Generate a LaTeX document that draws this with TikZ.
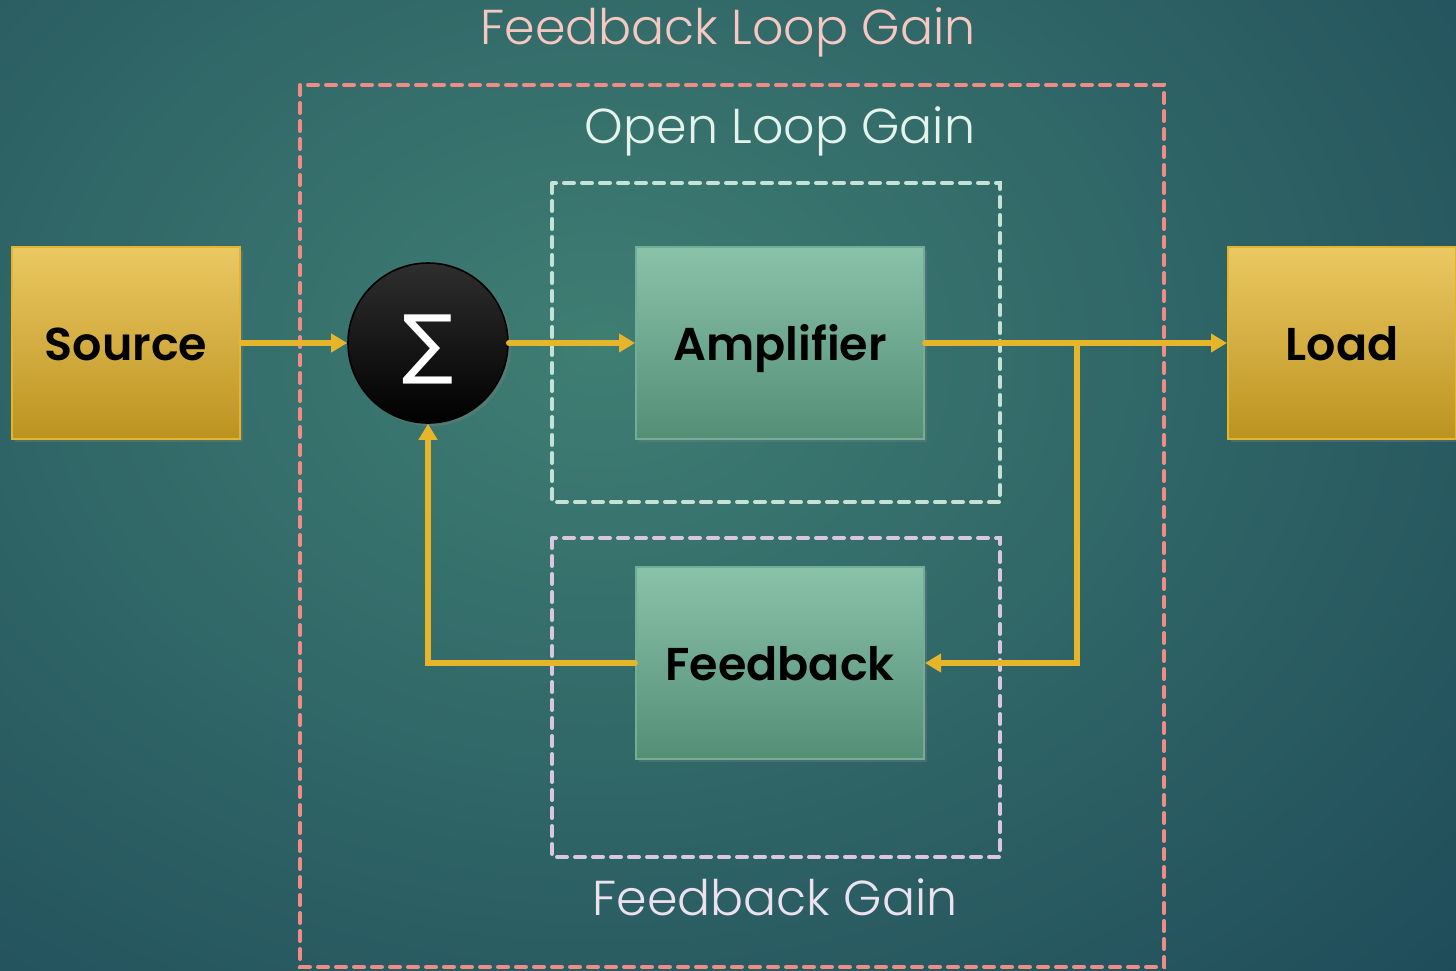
\documentclass[tikz,border=0pt]{standalone}
\usepackage{fontspec}
\setmainfont{Poppins}[BoldFont=* SemiBold]
\newfontfamily\thinfont{Poppins}[UprightFont=* Light]
\newfontfamily\symfont{DejaVu Sans}
\usetikzlibrary{arrows.meta,shadows}

\definecolor{bgin}{HTML}{3F7E73}
\definecolor{bgout}{HTML}{1C4757}
\definecolor{goldtop}{HTML}{ECC862}
\definecolor{goldbot}{HTML}{BB9320}
\definecolor{goldedge}{HTML}{E2B52C}
\definecolor{greentop}{HTML}{8AC2A9}
\definecolor{greenbot}{HTML}{548E77}
\definecolor{greenedge}{HTML}{72AE94}
\definecolor{wire}{HTML}{E6B52A}
\definecolor{loopred}{HTML}{F08C88}
\definecolor{openteal}{HTML}{C4E2D6}
\definecolor{fblilac}{HTML}{D9C6DF}
\definecolor{txtpink}{HTML}{F7C8C2}
\definecolor{txtmint}{HTML}{E4F3EC}
\definecolor{txtlilac}{HTML}{ECE2EF}

\tikzset{
  box/.style={draw, line width=1pt, rectangle, inner sep=0pt,
    drop shadow={opacity=0.35, shadow xshift=1.5pt, shadow yshift=-1.5pt},
    font=\fontsize{23}{26}\selectfont\bfseries, text=black,
    text height=17pt, text depth=0pt},
  goldbox/.style={box, draw=goldedge, top color=goldtop, bottom color=goldbot,
    minimum width=114pt, minimum height=96pt},
  greenbox/.style={box, draw=greenedge, top color=greentop, bottom color=greenbot,
    minimum width=144pt, minimum height=96pt},
  sumnode/.style={circle, draw=black, line width=0.8pt, minimum size=80pt,
    top color=black!82, bottom color=black, inner sep=0pt,
    drop shadow={opacity=0.35, shadow xshift=1.5pt, shadow yshift=-1.5pt},
    text=white, font=\symfont\fontsize{38}{38}\selectfont},
  flow/.style={draw=wire, line width=2.8pt, line cap=round, line join=miter,
    -{Triangle[length=8pt,width=9pt]}},
  frame/.style={line width=2pt, line cap=round, dash pattern=on 5pt off 4pt},
  gaintext/.style={font=\thinfont\fontsize{24.5}{28}\selectfont, inner sep=0pt},
}

\begin{document}
\begin{tikzpicture}[x=0.5pt, y=-0.5pt]
  % backdrop
  \path[use as bounding box] (0,0) rectangle (1456,970);
  \begin{scope}
    \clip (0,0) rectangle (1456,970);
    \fill[bgout] (0,0) rectangle (1456,970);
    \shade[inner color=bgin, outer color=bgout] (-700,-650) rectangle (1900,1350);
  \end{scope}

  % dashed gain regions
  \draw[frame, draw=loopred]   (300,85)  rectangle (1164,967);
  \draw[frame, draw=openteal]  (552,183) rectangle (1000,502);
  \draw[frame, draw=fblilac]   (552,538) rectangle (1000,857);

  % region captions
  \node[gaintext, text=txtpink]  (tloop) at (728,32)  {Feedback Loop Gain};
  \node[gaintext, text=txtmint]  (topen) at (780,131) {Open Loop Gain};
  \node[gaintext, text=txtlilac] (tfb)   at (775,897) {Feedback Gain};

  % blocks
  \node[goldbox]  (src)  at (126,343)  {Source};
  \node[goldbox]  (load) at (1342,343) {Load};
  \node[greenbox] (amp)  at (780,343)  {Amplifier};
  \node[greenbox] (fb)   at (780,663)  {Feedback};
  \node[sumnode]  (sum)  at (428,343)  {\raisebox{-13pt}[0pt][0pt]{∑}};

  % signal path
  \coordinate (tap) at (1077,343);
  \draw[flow] (src.east) -- (sum.west);
  \draw[flow] (sum.east) -- (amp.west);
  \draw[flow] (amp.east) -- (load.west);
  \draw[flow] (tap) |- (fb.east);
  \draw[flow] (fb.west) -| (sum.south);
\end{tikzpicture}
\end{document}
